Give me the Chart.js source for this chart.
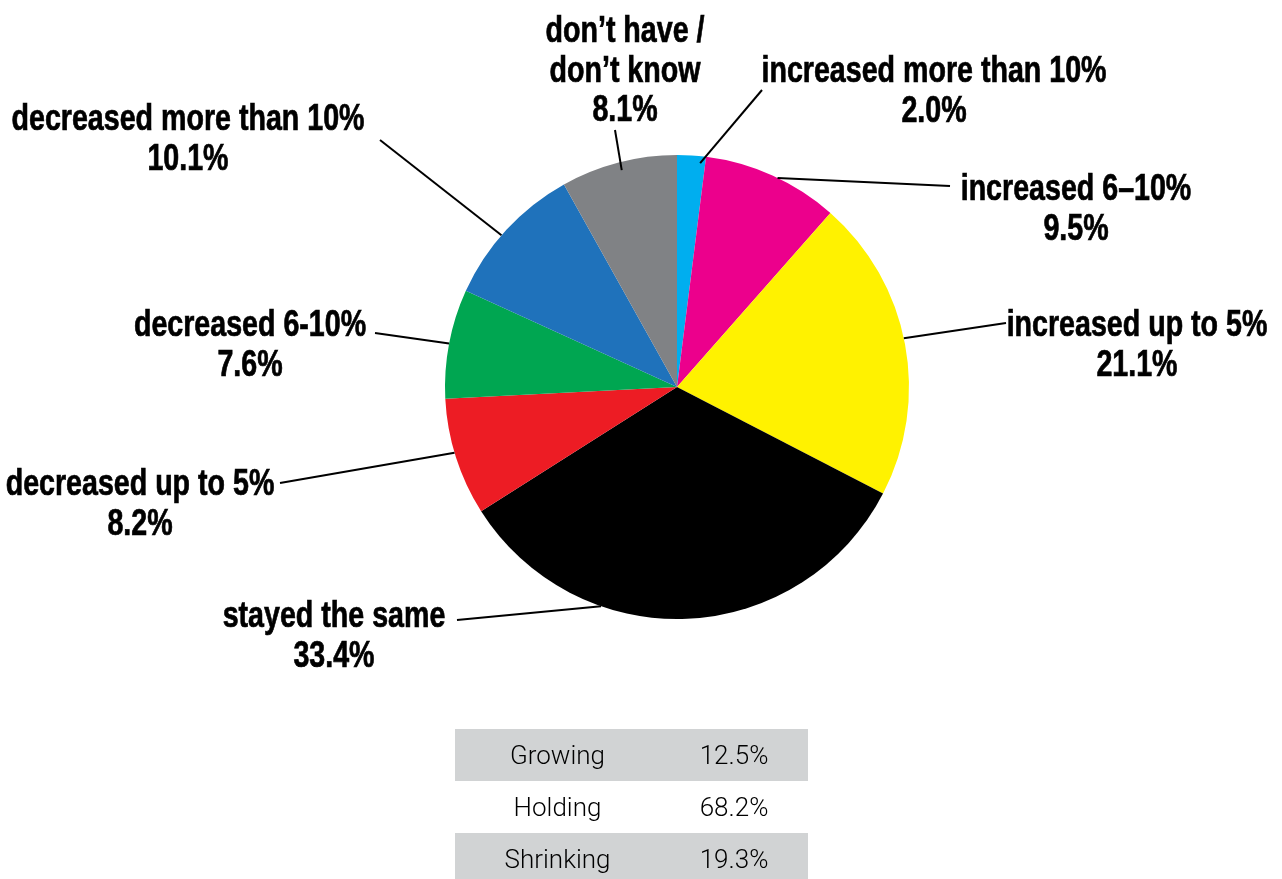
<!DOCTYPE html>
<html>
<head>
<meta charset="utf-8">
<script src="https://cdn.jsdelivr.net/npm/chart.js@4/dist/chart.umd.min.js"></script>
<style>
  html, body { margin: 0; padding: 0; background: #fff; }
  #wrap { position: relative; width: 1282px; height: 879px; overflow: hidden; }
  #pie { position: absolute; left: 0; top: 0; }
  #summary { position: absolute; left: 455px; top: 729px; width: 353px; border-collapse: collapse;
             font-family: Roboto, "Liberation Sans", sans-serif; font-weight: 300; font-size: 26px; color: #000; }
  #summary td { height: 52px; padding: 0; text-align: center; }
  #summary td.name { width: 205px; }
  #summary tr.shade td { background: #d1d3d4; }
</style>
</head>
<body>
<div id="wrap">
  <canvas id="pie" width="1282" height="879"></canvas>
  <table id="summary"></table>
</div>
<script>
// slices, clockwise from 12 o'clock
var sliceNames = ["increased more than 10%", "increased 6–10%", "increased up to 5%", "stayed the same",
                  "decreased up to 5%", "decreased 6-10%", "decreased more than 10%", "don’t have / don’t know"];
var sliceValues = [2.0, 9.5, 21.1, 33.4, 8.2, 7.6, 10.1, 8.1];
var sliceColors = ["#00aeef", "#ec008c", "#fff200", "#000000", "#ed1c24", "#00a651", "#1f72bb", "#808285"];

// summary rows under the pie
var groupNames = ["Growing", "Holding", "Shrinking"];
var groupValues = [12.5, 68.2, 19.3];

// label placement: text lines, centre x, first baseline, leader start, where the leader hits the slice
var callouts = [
  { lines: ["increased more than 10%"], x: 934, y: 82, from: [762, 90], t: 0.82, rf: 0.97 },
  { lines: ["increased 6–10%"], x: 1076, y: 200, from: [950, 186], t: 0.54, rf: 1.0 },
  { lines: ["increased up to 5%"], x: 1137, y: 336, from: [1006, 323], t: 0.48, rf: 1.0 },
  { lines: ["stayed the same"], x: 334, y: 627, from: [457, 620], t: 0.68, rf: 1.0 },
  { lines: ["decreased up to 5%"], x: 140, y: 495, from: [280, 483], t: 0.54, rf: 1.0 },
  { lines: ["decreased 6-10%"], x: 250, y: 336, from: [375, 333], t: 0.5, rf: 1.0 },
  { lines: ["decreased more than 10%"], x: 188, y: 130, from: [380, 140], t: 0.45, rf: 1.0 },
  { lines: ["don’t have /", "don’t know"], x: 625, y: 42, from: [615, 130], t: 0.51, rf: 0.965 }
];

var labelFont = 'bold 36px "Liberation Sans", Arial, sans-serif';
var widestLine = "decreased more than 10%";
var widestPx = 353;   // condensed width of the longest label line

var calloutPlugin = {
  id: 'callouts',
  afterDraw: function(chart) {
    var ctx = chart.ctx;
    var arcs = chart.getDatasetMeta(0).data;
    ctx.save();
    ctx.fillStyle = '#000';
    ctx.strokeStyle = '#000';
    ctx.lineWidth = 2;
    ctx.font = labelFont;
    ctx.textAlign = 'center';
    ctx.textBaseline = 'alphabetic';
    var squeeze = widestPx / ctx.measureText(widestLine).width;
    callouts.forEach(function(c, i) {
      var arc = arcs[i];
      var p = arc.getProps(['x', 'y', 'startAngle', 'endAngle', 'outerRadius'], true);
      var a = p.startAngle + (p.endAngle - p.startAngle) * c.t;
      var r = p.outerRadius * c.rf;
      ctx.lineWidth = 2;
      ctx.beginPath();
      ctx.moveTo(c.from[0], c.from[1]);
      ctx.lineTo(p.x + Math.cos(a) * r, p.y + Math.sin(a) * r);
      ctx.stroke();
      var text = c.lines.concat([sliceValues[i].toFixed(1) + '%']);
      text.forEach(function(line, k) {
        ctx.save();
        ctx.translate(c.x, c.y + k * 39.5);
        ctx.scale(squeeze, 1);
        ctx.lineWidth = 0.7;
        ctx.fillText(line, 0, 0);
        ctx.strokeText(line, 0, 0);
        ctx.restore();
      });
    });
    ctx.restore();
  }
};

new Chart(document.getElementById('pie'), {
  type: 'pie',
  data: {
    labels: sliceNames,
    datasets: [{ data: sliceValues, backgroundColor: sliceColors, borderWidth: 0 }]
  },
  options: {
    responsive: false,
    animation: false,
    layout: { padding: { left: 445, right: 373, top: 155, bottom: 260 } },
    plugins: { legend: { display: false }, tooltip: { enabled: false } }
  },
  plugins: [calloutPlugin]
});

var table = document.getElementById('summary');
groupNames.forEach(function(name, i) {
  var tr = document.createElement('tr');
  if (i % 2 === 0) tr.className = 'shade';
  tr.innerHTML = '<td class="name">' + name + '</td><td>' + groupValues[i].toFixed(1) + '%</td>';
  table.appendChild(tr);
});
</script>
</body>
</html>
